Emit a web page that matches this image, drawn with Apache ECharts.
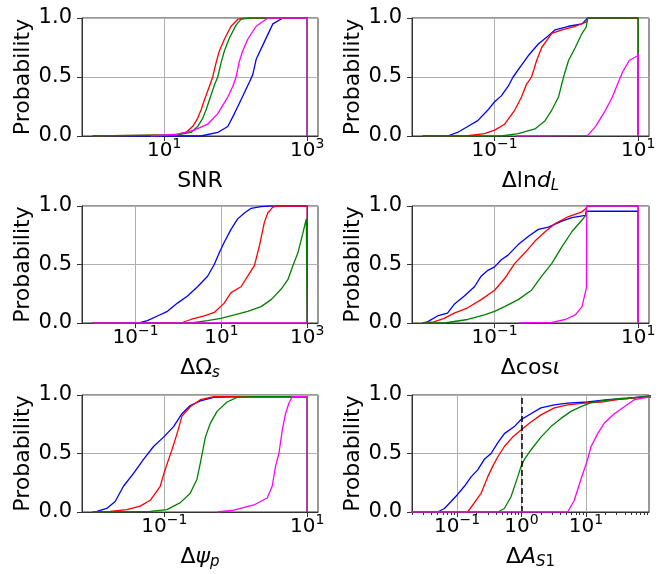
<!DOCTYPE html>
<html><head><meta charset="utf-8">
<script src="https://cdn.jsdelivr.net/npm/echarts@6/dist/echarts.min.js"></script>
<style>html,body{margin:0;padding:0;background:#fff}#c{width:671px;height:574px}</style>
</head><body><div id="c"></div>
<script>
// ---------- data: cumulative probability curves [value, probability] ----------
// Panel 1: SNR
const snrBlue    = [[1,0],[32.7,0],[56,0.03],[77.3,0.08],[95.8,0.19],[119,0.31],[156,0.46],[173,0.52],[193,0.65],[252,0.8],[330,0.95],[456,1],[1000,1],[1000,0]];
const snrRed     = [[1,0],[13.8,0.01],[20.1,0.03],[24.9,0.08],[29.3,0.15],[32.7,0.22],[37.2,0.32],[42.7,0.42],[47.6,0.5],[53,0.62],[59,0.72],[69.3,0.82],[86,0.93],[107,0.99],[140,1],[1000,1],[1000,0]];
const snrGreen   = [[1,0],[15.4,0.01],[23.7,0.03],[29.3,0.08],[34.5,0.15],[38.4,0.22],[44.2,0.33],[50.2,0.43],[56,0.5],[62.3,0.62],[69.3,0.72],[81.5,0.83],[101,0.94],[119,0.99],[156,1],[1000,1],[1000,0]];
const snrMagenta = [[6.5,0],[15.4,0.015],[26.3,0.05],[40.5,0.1],[56,0.19],[77.3,0.33],[90.8,0.42],[101,0.5],[112,0.63],[125,0.72],[147,0.82],[193,0.93],[281,1],[1000,1],[1000,0]];
// Panel 2: Delta ln d_L
const dlBlue    = [[0.01,0],[0.022,0],[0.0305,0.03],[0.0422,0.08],[0.0583,0.13],[0.0806,0.22],[0.1,0.29],[0.124,0.34],[0.154,0.42],[0.181,0.5],[0.237,0.6],[0.294,0.68],[0.406,0.78],[0.562,0.85],[0.697,0.9],[1.07,0.93],[1.65,0.95],[1.98,1],[10,1],[10,0]];
const dlRed     = [[0.01,0],[0.04,0],[0.0723,0.02],[0.1,0.05],[0.138,0.1],[0.191,0.22],[0.237,0.33],[0.279,0.44],[0.327,0.5],[0.385,0.64],[0.453,0.75],[0.626,0.87],[0.865,0.9],[1.33,0.93],[1.94,0.97],[1.98,1],[10,1],[10,0]];
const dlGreen   = [[0.01,0],[0.124,0],[0.213,0.02],[0.365,0.06],[0.505,0.13],[0.626,0.22],[0.776,0.33],[0.913,0.5],[1.07,0.64],[1.33,0.75],[1.65,0.87],[1.88,0.92],[1.98,1],[10,1],[10,0]];
const dlMagenta = [[0.2,0],[1.98,0.005],[2.54,0.08],[3.51,0.22],[4.36,0.33],[5.41,0.47],[6.03,0.54],[7.48,0.64],[9.79,0.68],[10,0.7],[10,0]];
// Panel 3: Delta Omega_s
const omBlue    = [[0.01,0],[0.12,0],[0.188,0.02],[0.321,0.06],[0.551,0.1],[0.944,0.17],[1.62,0.23],[2.77,0.31],[4.75,0.4],[6.8,0.5],[8.89,0.6],[11.6,0.69],[16.7,0.8],[23.9,0.89],[34.2,0.94],[49,0.98],[83.9,0.995],[120,1],[1000,1],[1000,0]];
const omRed     = [[0.01,0],[1.13,0],[1.94,0.03],[3.97,0.06],[6.8,0.09],[11.6,0.17],[16.7,0.26],[28.6,0.31],[40.9,0.4],[58.6,0.49],[76.7,0.66],[100,0.86],[120,0.94],[157,0.99],[206,1],[1000,1],[1000,0]];
const omGreen   = [[0.01,0],[1.94,0],[4.75,0.02],[9.73,0.04],[20,0.07],[40.9,0.1],[83.9,0.14],[144,0.2],[247,0.29],[353,0.37],[462,0.49],[605,0.6],[793,0.77],[949,0.89],[1000,0.89],[1000,0]];
const omMagenta = [[0.01,0],[1000,0]];
// Panel 4: Delta cos iota
const ciBlue    = [[0.01,0],[0.0116,0.01],[0.016,0.06],[0.0221,0.085],[0.0274,0.16],[0.0379,0.23],[0.0524,0.31],[0.065,0.4],[0.0806,0.45],[0.1,0.48],[0.124,0.54],[0.154,0.58],[0.213,0.67],[0.294,0.74],[0.406,0.8],[0.562,0.82],[0.865,0.87],[1.19,0.9],[1.84,0.92],[1.92,0.955],[10,0.955],[10,0]];
const ciRed     = [[0.01,0],[0.0143,0.01],[0.0198,0.04],[0.0274,0.085],[0.0422,0.13],[0.065,0.2],[0.1,0.28],[0.138,0.38],[0.191,0.51],[0.264,0.6],[0.365,0.7],[0.505,0.78],[0.697,0.85],[1.07,0.91],[1.65,0.95],[1.88,0.98],[1.92,1],[10,1],[10,0]];
const ciGreen   = [[0.01,0],[0.0198,0],[0.0422,0.03],[0.0723,0.07],[0.1,0.1],[0.138,0.14],[0.213,0.2],[0.327,0.28],[0.453,0.4],[0.626,0.51],[0.865,0.65],[1.19,0.78],[1.65,0.88],[1.84,0.915],[1.92,1],[10,1],[10,0]];
const ciMagenta = [[0.22,0],[0.626,0.005],[0.964,0.03],[1.33,0.07],[1.65,0.14],[1.8,0.24],[1.9,0.3],[1.92,1],[10,1],[10,0]];
// Panel 5: Delta psi_p
const psBlue    = [[0.01,0],[0.0114,0.005],[0.0157,0.03],[0.0206,0.09],[0.0269,0.22],[0.0372,0.33],[0.0513,0.45],[0.0709,0.56],[0.0979,0.64],[0.135,0.73],[0.177,0.84],[0.231,0.91],[0.32,0.95],[0.492,0.98],[0.938,0.985],[10,0.985],[10,0]];
const psRed     = [[0.01,0],[0.0175,0.005],[0.03,0.02],[0.0461,0.05],[0.0637,0.1],[0.0879,0.22],[0.0979,0.32],[0.115,0.45],[0.128,0.53],[0.151,0.67],[0.177,0.82],[0.231,0.9],[0.32,0.96],[0.492,0.985],[10,0.985],[10,0]];
const psGreen   = [[0.01,0],[0.0637,0.005],[0.109,0.02],[0.168,0.08],[0.231,0.16],[0.287,0.28],[0.32,0.42],[0.337,0.49],[0.376,0.64],[0.442,0.76],[0.548,0.86],[0.756,0.94],[1.04,0.98],[1.61,0.985],[10,0.985],[10,0]];
const psMagenta = [[0.548,0],[0.938,0.015],[1.79,0.06],[2.75,0.12],[3.23,0.22],[3.6,0.39],[4.01,0.5],[4.47,0.7],[4.97,0.84],[5.53,0.93],[6.16,0.985],[10,0.985],[10,0]];
// Panel 6: Delta A_S1
const asBlue    = [[0.01,0],[0.05,0],[0.0636,0.03],[0.0807,0.09],[0.102,0.15],[0.13,0.22],[0.165,0.3],[0.209,0.36],[0.265,0.45],[0.337,0.5],[0.427,0.59],[0.542,0.67],[0.774,0.73],[0.982,0.79],[1.4,0.84],[2.0,0.89],[3.23,0.915],[5.2,0.93],[10.6,0.94],[21.7,0.96],[44.2,0.97],[90.3,0.99],[120,0.995]];
const asRed     = [[0.01,0],[0.146,0],[0.186,0.08],[0.236,0.16],[0.299,0.3],[0.357,0.39],[0.427,0.47],[0.542,0.56],[0.729,0.64],[0.982,0.7],[1.4,0.77],[2.0,0.83],[3.23,0.89],[5.2,0.915],[9.41,0.93],[17.1,0.94],[34.9,0.965],[90.3,0.985],[120,0.99]];
const asGreen   = [[0.01,0],[0.427,0],[0.542,0.03],[0.687,0.13],[0.873,0.3],[0.982,0.39],[1.11,0.45],[1.4,0.53],[2.0,0.64],[2.86,0.73],[4.09,0.8],[5.85,0.86],[8.36,0.9],[12,0.935],[17.1,0.95],[34.9,0.97],[90.3,0.985],[120,0.99]];
const asMagenta = [[0.01,0],[5.2,0],[6.59,0.1],[8.36,0.28],[10.6,0.45],[12,0.56],[15.2,0.67],[19.2,0.76],[27.5,0.84],[39.3,0.9],[56.1,0.96],[90.3,0.98],[120,0.985]];
const asRefLine = 1;

// ---------- ticks ----------
const snrTicks = [10, 1000];
const dlTicks  = [0.1, 10];
const omTicks  = [0.1, 10, 1000];
const ciTicks  = [0.1, 10];
const psTicks  = [0.1, 10];
const asTicks  = [0.1, 1, 10];
const probTicks = ['0.0', '0.5', '1.0'];

const seriesColors = ['#0000ff', '#ff0000', '#008000', '#ff00ff'];
const FONT = 'DejaVu Sans';

const panels = [
  {name:'{n|SNR}', min:Math.pow(10,-0.15), max:Math.pow(10,3.15), ticks:snrTicks, data:[snrBlue,snrRed,snrGreen,snrMagenta]},
  {name:'{n|\u0394ln}{i|d}{sub|L}', min:Math.pow(10,-2.15), max:Math.pow(10,1.15), ticks:dlTicks, data:[dlBlue,dlRed,dlGreen,dlMagenta]},
  {name:'{n|\u0394\u03a9}{sub|s}', min:Math.pow(10,-2.25), max:Math.pow(10,3.25), ticks:omTicks, data:[omBlue,omRed,omGreen,omMagenta]},
  {name:'{n|\u0394cos}{i|\u03b9}', min:Math.pow(10,-2.15), max:Math.pow(10,1.15), ticks:ciTicks, data:[ciBlue,ciRed,ciGreen,ciMagenta]},
  {name:'{n|\u0394}{i|\u03c8}{sub|p}', min:Math.pow(10,-2.15), max:Math.pow(10,1.15), ticks:psTicks, data:[psBlue,psRed,psGreen,psMagenta]},
  {name:'{n|\u0394}{i|A}{sub|S}{subu|1}', min:0.02, max:95, ticks:asTicks, data:[asBlue,asRed,asGreen,asMagenta], minor:true, ref:asRefLine}
];

const grids = [
  {left:82, top:18, width:236, height:118},
  {left:412, top:18, width:237, height:118},
  {left:82, top:206, width:236, height:117},
  {left:412, top:206, width:237, height:117},
  {left:82, top:395, width:236, height:117},
  {left:412, top:395, width:237, height:117}
];

function fmtPow(v){
  const e = Math.round(Math.log10(v));
  return '{b|10}{s|' + (e < 0 ? '\u2212' + (-e) : String(e)) + '}';
}

const tickRich = {
  b:{fontFamily:FONT, fontSize:20, lineHeight:22, color:'#000'},
  s:{fontFamily:FONT, fontSize:14, lineHeight:14, padding:[0,0,14,0], color:'#000'}
};
const nameRich = {
  n:{fontFamily:FONT, fontSize:22, lineHeight:26, color:'#000'},
  i:{fontFamily:FONT, fontSize:22, lineHeight:26, fontStyle:'italic', color:'#000'},
  sub:{fontFamily:FONT, fontSize:15, lineHeight:16, padding:[11,0,0,0], fontStyle:'italic', color:'#000'},
  subu:{fontFamily:FONT, fontSize:15, lineHeight:16, padding:[11,0,0,0], color:'#000'}
};
const AX = '#333';

const option = {
  animation:false,
  backgroundColor:'#fff',
  grid: grids.map(g => Object.assign({show:true, borderColor:AX, borderWidth:1, backgroundColor:'transparent'}, g)),
  xAxis: panels.map((p, i) => ({
    type:'log', logBase:10, gridIndex:i, min:p.min, max:p.max,
    axisLine:{show:true, onZero:false, lineStyle:{color:AX, width:1}},
    axisTick:{show:true, customValues:p.ticks, length:5, lineStyle:{color:AX, width:1}},
    minorTick: p.minor ? {show:true, splitNumber:9, length:3, lineStyle:{color:AX, width:1}} : {show:false},
    axisLabel:{show:true, customValues:p.ticks, margin:4, formatter:fmtPow, rich:tickRich},
    splitLine:{show:true, lineStyle:{color:'#b0b0b0', width:1}},
    minorSplitLine:{show:false},
    name:p.name, nameLocation:'middle', nameGap:32,
    nameTextStyle:{rich:nameRich}
  })),
  yAxis: panels.map((p, i) => ({
    type:'value', gridIndex:i, min:0, max:1, interval:0.5,
    axisLine:{show:true, lineStyle:{color:AX, width:1}},
    axisTick:{show:true, length:5, lineStyle:{color:AX, width:1}},
    axisLabel:{margin:10, fontFamily:FONT, fontSize:21, color:'#000',
      formatter: v => probTicks[Math.round(v * 2)]},
    splitLine:{show:true, lineStyle:{color:'#b0b0b0', width:1}},
    name:'Probability', nameLocation:'middle', nameGap:46,
    nameTextStyle:{fontFamily:FONT, fontSize:22, color:'#000'}
  })),
  series: []
};

panels.forEach((p, i) => {
  p.data.forEach((d, k) => {
    const s = {
      type:'line', xAxisIndex:i, yAxisIndex:i, data:d,
      showSymbol:false, symbol:'none', silent:true, clip:true,
      lineStyle:{color:seriesColors[k], width:1.3},
      z: 2 + k
    };
    if (p.ref !== undefined && k === 3) {
      s.markLine = {
        silent:true, symbol:['none','none'], label:{show:false}, animation:false,
        lineStyle:{type:[6,3], color:'#000', width:1.5},
        data:[{xAxis:p.ref}]
      };
    }
    option.series.push(s);
  });
});

const chart = echarts.init(document.getElementById('c'), null, {renderer:'canvas'});
chart.setOption(option);
</script>
</body></html>
